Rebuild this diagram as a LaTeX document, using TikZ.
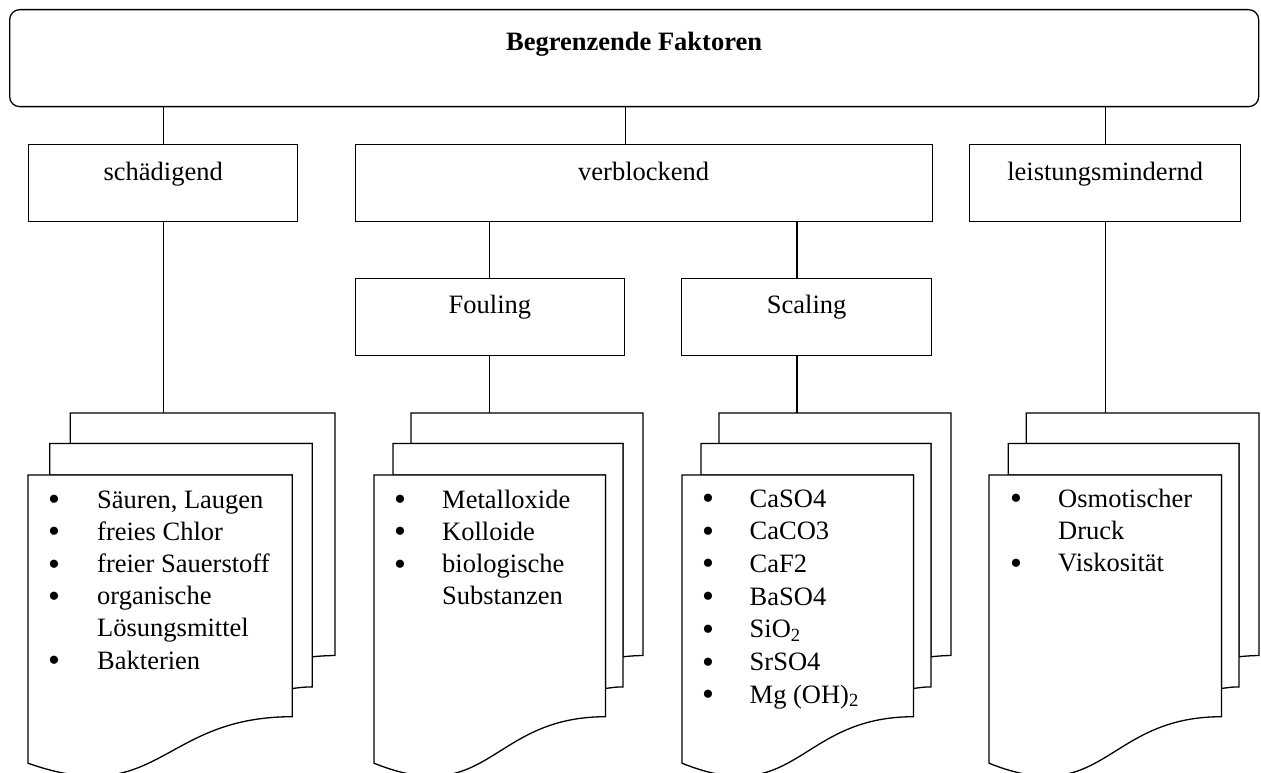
\documentclass[tikz,border=0pt]{standalone}
\usepackage{fontspec}
\setmainfont{Liberation Serif}
\newcommand\bigbul{{\fontsize{34}{0}\selectfont\raisebox{-2.6pt}{•}}}
\newcommand\multidoc[5]{% name, left, top, width, height
  \begin{scope}[shift={(#2,#3)}, x=#4pt, y=-#5pt]
    \filldraw[sheet] (0.13759,0.08403) -- (0.13759,0) -- (1,0) -- (1,0.66630)
      .. controls (0.96296,0.66630) and (0.92593,0.66977) .. (0.92593,0.66977)
      -- (0.92593,0.08403) -- cycle;
    \filldraw[sheet] (0.07093,0.17014) -- (0.07093,0.08403) -- (0.92593,0.08403) -- (0.92593,0.75241)
      .. controls (0.89343,0.75241) and (0.86088,0.75704) .. (0.86088,0.75704)
      -- (0.86088,0.17014) -- cycle;
    \filldraw[sheet] (0,0.96213) .. controls (0.43046,1.08991) and (0.43046,0.83435) .. (0.86088,0.83435)
      -- (0.86088,0.17014) -- (0,0.17014) -- cycle;
    \coordinate (#1) at (0.5,0);
  \end{scope}}
\begin{document}
\begin{tikzpicture}[x=1pt,y=-1pt, line join=miter,
  txt/.style={font=\fontsize{26.5}{32.2}\selectfont},
  box/.style={draw, line width=1.3pt, fill=white, inner xsep=0pt, inner ysep=0pt,
              anchor=north west, txt},
  rowtwo/.style={box, minimum height=77pt, text height=36pt, text depth=41pt},
  rowthree/.style={box, minimum height=77pt, text height=35pt, text depth=42pt},
  conn/.style={line width=1.1pt},
  sheet/.style={draw, line width=1.3pt, fill=white},
  lst/.style={anchor=base west, inner sep=0pt, txt}]

\useasboundingbox (0,0) rectangle (1261,773);

% boxes
\node[box, rounded corners=10pt, minimum width=1249pt, minimum height=97pt,
      text height=41pt, text depth=56pt, font=\bfseries\fontsize{26.5}{32.2}\selectfont]
      (top) at (9,9) {Begrenzende Faktoren};
\node[rowtwo, minimum width=269pt] (schad) at (28,144) {schädigend};
\node[rowtwo, minimum width=577pt] (verbl) at (354.5,144) {verblockend};
\node[rowtwo, minimum width=271pt] (leist) at (969,144) {leistungsmindernd};
\node[rowthree, minimum width=269.5pt] (foul) at (354.5,278) {Fouling};
\node[rowthree, minimum width=250pt] (scal) at (681,278) {Scaling};
\coordinate (sc) at (797,278);

% connectors between boxes
\draw[conn] (top.south -| schad.north) -- (schad.north);
\draw[conn] (top.south -| foul.east) -- (verbl.north -| foul.east);
\draw[conn] (top.south -| leist.north) -- (leist.north);
\draw[conn] (verbl.south -| foul.north) -- (foul.north);
\draw[conn] (verbl.south -| sc) -- (sc);

% document stacks
\multidoc{d1}{28}{413}{307}{364}
\multidoc{d2}{374}{413}{269}{364}
\multidoc{d3}{682}{413}{269}{364}
\multidoc{d4}{989}{413}{270}{364}

\draw[conn] (schad.south) -- (schad.south |- d1);
\draw[conn] (foul.south) -- (foul.south |- d2);
\draw[conn] (scal.south -| sc) -- (sc |- d3);
\draw[conn] (leist.south) -- (leist.south |- d4);

% lists
\node[lst] (l1) at (48,508) {\begin{tabular}[t]{@{}p{49pt}@{}l@{}}
  \bigbul& Säuren, Laugen\\
  \bigbul& freies Chlor\\
  \bigbul& freier Sauerstoff\\
  \bigbul& organische\\
   & Lösungsmittel\\
  \bigbul& Bakterien
\end{tabular}};
\node[lst] (l2) at (394,508) {\begin{tabular}[t]{@{}p{48pt}@{}l@{}}
  \bigbul& Metalloxide\\
  \bigbul& Kolloide\\
  \bigbul& biologische\\
   & Substanzen
\end{tabular}};
\node[lst] (l3) at (702,507) {\renewcommand\arraystretch{1.015}\begin{tabular}[t]{@{}p{47.5pt}@{}l@{}}
  \bigbul& CaSO4\\
  \bigbul& CaCO3\\
  \bigbul& CaF2\\
  \bigbul& BaSO4\\
  \bigbul& SiO\textsubscript{2}\\
  \bigbul& SrSO4\\
  \bigbul& Mg (OH)\textsubscript{2}
\end{tabular}};
\node[lst] (l4) at (1010,507) {\begin{tabular}[t]{@{}p{48pt}@{}l@{}}
  \bigbul& Osmotischer\\
   & Druck\\
  \bigbul& Viskosität
\end{tabular}};
\end{tikzpicture}
\end{document}
